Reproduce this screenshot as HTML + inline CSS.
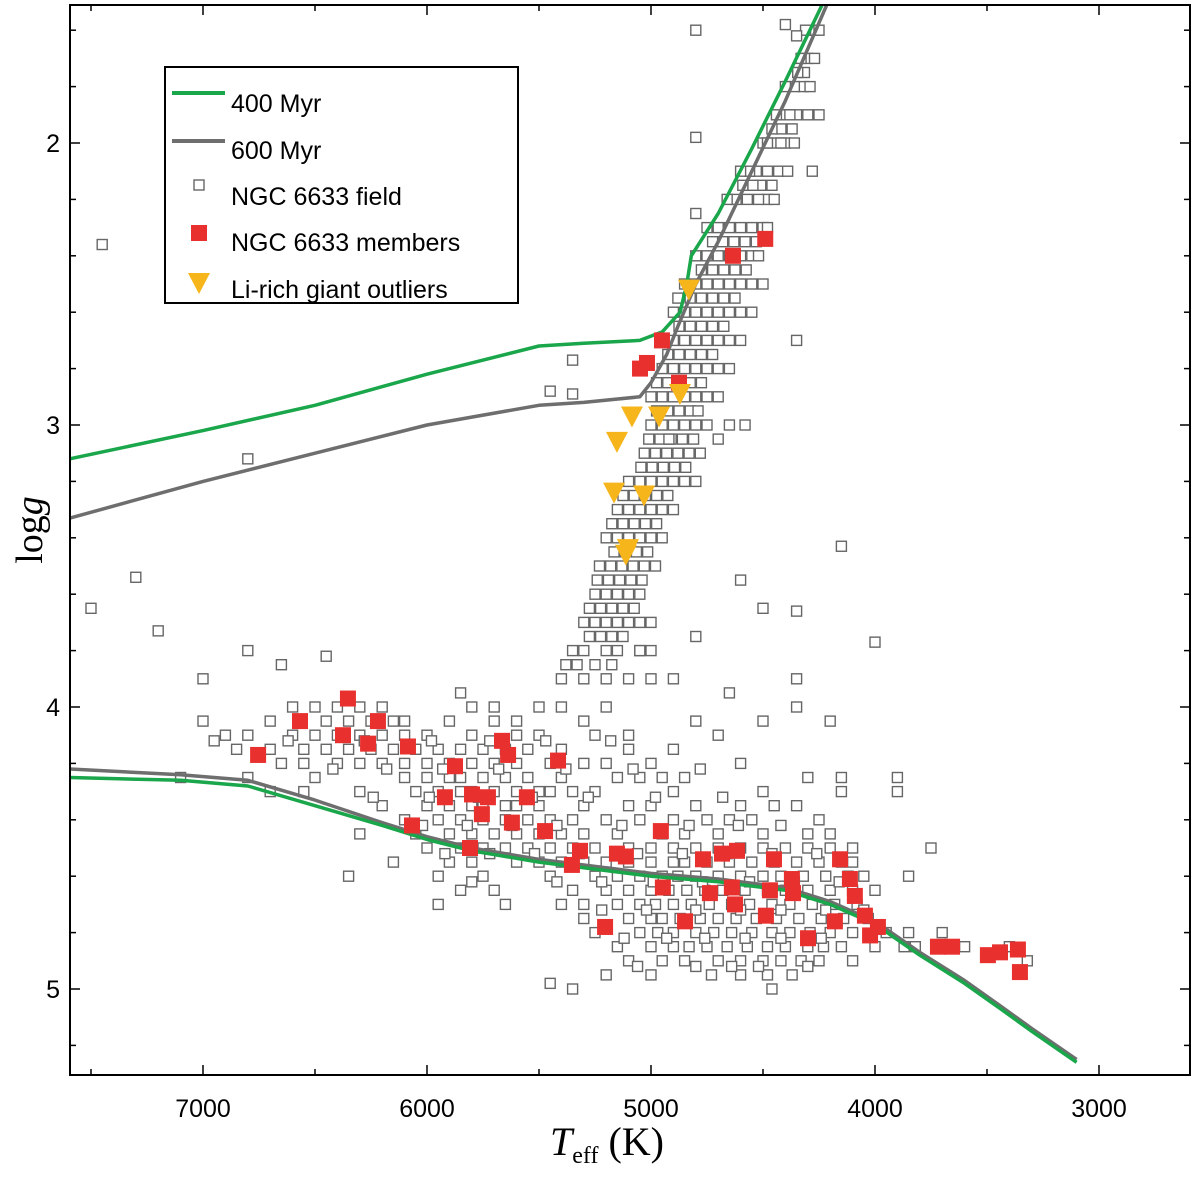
<!DOCTYPE html>
<html><head><meta charset="utf-8">
<style>
html,body{margin:0;padding:0;background:#fff;}
svg{display:block;}
.sans{font-family:"Liberation Sans",sans-serif;}
</style></head>
<body>
<svg id="chart" width="1200" height="1177" viewBox="0 0 1200 1177" xmlns="http://www.w3.org/2000/svg">
<rect x="0" y="0" width="1200" height="1177" fill="#fff"/>
<g id="plot"></g>
</svg>
<script>
// ---- data ----
const xTicks=[7000,6000,5000,4000,3000];
const yTicks=[2,3,4,5];
const iso400Giant=[[4230,1.5],[4400,1.78],[4550,2.02],[4700,2.25],[4780,2.35],[4820,2.4],[4840,2.5],[4870,2.6],[4950,2.67],[5050,2.7],[5300,2.71],[5500,2.72],[6000,2.82],[6500,2.93],[7000,3.02],[7594,3.12]];
const iso600Giant=[[4210,1.5],[4400,1.85],[4550,2.1],[4700,2.35],[4800,2.5],[4880,2.65],[4930,2.75],[5000,2.85],[5050,2.9],[5300,2.92],[5500,2.93],[6000,3.0],[6500,3.1],[7000,3.2],[7594,3.33]];
const iso400MS=[[7594,4.25],[7100,4.26],[6800,4.28],[6500,4.35],[6200,4.42],[6000,4.47],[5800,4.51],[5500,4.55],[5000,4.6],[4700,4.62],[4400,4.65],[4200,4.7],[4000,4.77],[3800,4.88],[3600,4.98],[3440,5.07],[3300,5.15],[3100,5.26]];
const iso600MS=[[7594,4.22],[7100,4.24],[6800,4.26],[6500,4.33],[6200,4.41],[6000,4.46],[5800,4.5],[5500,4.54],[5000,4.59],[4700,4.61],[4400,4.64],[4200,4.69],[4000,4.76],[3800,4.87],[3600,4.97],[3440,5.06],[3300,5.14],[3100,5.25]];
const members=[[4490,2.34],[4634,2.40],[4951,2.70],[5049,2.80],[5018,2.78],[4875,2.85],[6353,3.97],[6567,4.05],[6219,4.05],[6375,4.10],[6263,4.13],[6754,4.17],[6085,4.14],[5665,4.12],[5638,4.17],[5415,4.19],[5875,4.21],[5920,4.32],[5799,4.31],[5728,4.32],[5554,4.32],[6067,4.42],[5755,4.38],[5621,4.41],[5473,4.44],[5808,4.50],[5317,4.51],[5353,4.56],[5152,4.52],[5112,4.53],[4956,4.44],[4768,4.54],[4683,4.52],[4616,4.51],[4451,4.54],[4156,4.54],[4112,4.61],[4090,4.67],[4947,4.64],[4737,4.66],[4639,4.64],[4469,4.65],[4371,4.61],[4366,4.66],[4625,4.70],[4487,4.74],[4848,4.76],[5205,4.78],[4299,4.82],[4179,4.76],[4045,4.74],[3987,4.78],[4022,4.81],[3719,4.85],[3656,4.85],[3496,4.88],[3442,4.87],[3362,4.86],[3353,4.94]];
const liRich=[[4831,2.52],[4871,2.89],[5085,2.97],[4964,2.97],[5152,3.06],[5165,3.24],[5031,3.25],[5103,3.44],[5112,3.46]];
const fieldRows=[
[1.6,[4280,4310,4250]],[1.7,[4300,4330,4270]],[1.8,[4320,4360,4290,4400]],[1.9,[4350,4400,4440,4300,4380]],
[2.0,[4400,4450,4500,4360,4420,4480]],[2.1,[4430,4480,4530,4390,4560,4600]],[2.2,[4480,4520,4570,4620,4450,4660]],
[2.3,[4500,4550,4600,4650,4700,4480,4750]],[2.4,[4550,4600,4650,4700,4750,4800,4520]],[2.5,[4600,4650,4700,4750,4800,4850,4550,4500]],
[2.6,[4650,4700,4750,4800,4850,4900,4600,4550]],[2.7,[4700,4750,4800,4850,4900,4950,4650,4600]],[2.8,[4750,4800,4850,4900,4950,4700,4650]],
[2.9,[4800,4850,4900,4950,5000,4750,4700]],[3.0,[4850,4900,4950,5000,4800,4750,4650,4580]],[3.1,[4880,4930,4980,5030,4830,4780]],
[3.2,[4900,4950,5000,5050,5100,4850,4800]],[3.3,[4950,5000,5050,5100,5150,4900]],[3.4,[5000,5050,5100,5150,4950,5200]],
[3.5,[5030,5080,5130,5180,5230,4980]],[3.6,[5050,5100,5150,5200,5250]],[3.7,[5100,5150,5200,5250,5300,5050]],
[3.8,[5150,5200,5300,5350,5050,5000]],[3.9,[5200,5300,5400,5100,5000,4900]],
[1.75,[4315,4345]],[1.95,[4370,4420,4460]],[2.15,[4460,4510,4545,4590]],[2.35,[4530,4580,4630,4680,4725]],
[2.45,[4575,4625,4675,4725,4775]],[2.55,[4625,4675,4725,4775,4825,4880]],[2.65,[4675,4725,4775,4825,4875]],
[2.75,[4725,4775,4825,4875,4925]],[2.85,[4775,4825,4875,4925,4975]],[2.95,[4825,4875,4925,4975,4790]],
[3.05,[4860,4910,4960,5010,4810]],[3.15,[4895,4945,4995,5045,4845]],[3.25,[4925,4975,5025,5075,5125]],
[3.35,[4975,5025,5075,5125,5175]],[3.45,[5015,5065,5115,5165]],[3.55,[5040,5090,5140,5190,5240]],
[3.65,[5075,5125,5175,5225,5275]],[3.75,[5125,5175,5225,5275]],[3.85,[5175,5250,5330,5380]],
[4.0,[6500,6400,6300,6200,5800,5500,5400,5200]],
[4.05,[6700,6450,6350,6250,6150,6100,5900,5700,5600,5300,4800,4200]],
[4.1,[6900,6800,6600,6500,6400,6300,6200,6100,6000,5800,5600,5500,5250,5100,4700]],
[4.15,[6850,6700,6550,6450,6350,6250,6150,6050,5950,5850,5750,5650,5550,5400,5100,4900]],
[4.2,[6650,6550,6400,6300,6200,6100,6000,5900,5800,5700,5600,5450,5300,5200,5000,4600]],
[4.25,[6800,6500,6100,6000,5900,5850,5750,5650,5550,5400,5150,5050,4950,4850,4300]],
[4.3,[6700,6300,6050,5950,5850,5800,5700,5600,5500,5450,5350,5250,4900,4500,4150,3900]],
[4.35,[6200,6000,5900,5800,5750,5650,5600,5500,5300,5100,5000,4800,4600,4450,4350]],
[4.4,[6100,5950,5850,5750,5650,5550,5450,5350,5200,5050,4900,4750,4650,4550,4250]],
[4.45,[6050,5900,5800,5700,5600,5500,5400,5300,5150,4950,4850,4700,4500,4300,4200]],
[4.5,[6000,5850,5750,5650,5550,5450,5350,5250,5100,5000,4900,4800,4700,4600,4500,4400,4300,4200]],
[4.55,[5900,5800,5600,5500,5400,5300,5200,5100,5000,4900,4850,4750,4650,4550,4450,4350,4250,4150,4100]],
[4.6,[6350,5750,5450,5250,5150,5050,4950,4880,4800,4700,4600,4500,4420,4320,4220,4120,4050,3850]],
[4.65,[5850,5700,5350,5200,5100,5000,4920,4840,4760,4680,4580,4480,4400,4300,4200,4100,4000]],
[4.7,[5950,5650,5400,5300,5150,5050,4980,4900,4820,4740,4640,4560,4460,4380,4280,4180,4080]],
[4.75,[5300,5100,5000,4950,4870,4780,4700,4620,4530,4440,4340,4240,4140,4030]],
[4.8,[5250,5050,4970,4900,4800,4720,4640,4550,4460,4380,4290,4200,4100,3950,3850,3700]],
[4.85,[5150,5000,4900,4830,4750,4660,4570,4480,4400,4300,4230,4150,4000,3870,3820,3600,3400]],
[4.9,[5100,4950,4850,4700,4600,4500,4420,4330,4250,4100,3320]],
[4.95,[5200,5000,4730,4600,4480,4370]],[5.0,[5350,4460]],
[4.12,[6620,6280,5980,5720,5470,5180]],[4.22,[6420,6180,5930,5680,5380,5080,4780]],[4.32,[6240,5990,5770,5530,5280,4980,4680]],
[4.42,[6020,5820,5620,5420,5130,4830,4610,4420]],[4.52,[5920,5720,5520,5320,5060,4860,4660,4460,4260]],
[4.62,[5420,5220,4990,4770,4560,4360,4160]],[4.72,[5220,5020,4800,4600,4420,4220,4050]],[4.82,[5120,4930,4760,4580,4420,4240]],[4.92,[5060,4800,4640,4520,4300]]];
const fieldExtra=[[7450,2.36],[7500,3.65],[7300,3.54],[7200,3.73],[6800,3.12],[5450,2.88],[5350,2.89],[5350,2.77],[4950,1.48],[4800,1.6],[4250,1.9],[4280,2.1],[4350,2.7],[4150,3.43],[4000,3.77],[4350,3.66],[4350,3.9],[4500,3.65],[4600,3.55],[4800,3.75],[4650,3.95],[4350,4.0],[4500,4.05],[4150,4.25],[3900,4.25],[4100,4.5],[3750,4.5],[7100,4.25],[7000,3.9],[7000,4.05],[6950,4.12],[6800,3.8],[6650,3.85],[6450,3.82],[6600,4.0],[6550,4.3],[6300,4.45],[6150,4.55],[5950,4.6],[5800,4.62],[5450,4.98],[5850,3.95],[5700,4.0],[4800,2.25],[4800,1.98],[4400,1.58],[4350,1.62],[4920,3.05],[4700,3.05],[5050,3.8],[5000,3.7]];

// ---- axes ----
const X0=70,X1=1190,Y0=5,Y1=1075;
const sx=t=>203+(7000-t)*0.224;
const sy=g=>143+(g-2)*282;
const NS="http://www.w3.org/2000/svg";
const plot=document.getElementById('plot');
function mk(tag,attrs,parent){const e=document.createElementNS(NS,tag);for(const k in attrs)e.setAttribute(k,attrs[k]);(parent||plot).appendChild(e);return e;}

const clip=mk('clipPath',{id:'pc'});mk('rect',{x:X0,y:Y0,width:X1-X0,height:Y1-Y0},clip);
const gData=mk('g',{'clip-path':'url(#pc)'});



const gField=mk('g',{},gData);


const fieldPts=[];
fieldRows.forEach(r=>r[1].forEach(t=>fieldPts.push([t,r[0]])));
fieldExtra.forEach(p=>fieldPts.push(p));
fieldPts.forEach(p=>{
  const r=mk('rect',{x:sx(p[0])-5,y:sy(p[1])-5,width:10,height:10,fill:'#fff',stroke:'#666','stroke-width':1.4},gField);
  
  
});

function line(pts,color,name){
  const d=pts.map((p,i)=>(i?'L':'M')+sx(p[0]).toFixed(1)+','+sy(p[1]).toFixed(1)).join(' ');
  const e=mk('path',{d:d,fill:'none',stroke:color,'stroke-width':3.5,'stroke-linejoin':'round'},gData);
  
  
}
line(iso600Giant,'#6e6e6e','isochrone-600myr-giant');
line(iso600MS,'#6e6e6e','isochrone-600myr-ms');
line(iso400Giant,'#1aa64a','isochrone-400myr-giant');
line(iso400MS,'#1aa64a','isochrone-400myr-ms');

const gMem=mk('g',{},gData);


members.forEach(p=>{
  const r=mk('rect',{x:sx(p[0])-8,y:sy(p[1])-8,width:16,height:16,fill:'#e8302e'},gMem);
  
  
});
const gLi=mk('g',{},gData);


liRich.forEach(p=>{
  const x=sx(p[0]),y=sy(p[1]);
  const t=mk('polygon',{points:`${x-11},${y-10} ${x+11},${y-10} ${x},${y+11}`,fill:'#f7b51c'},gLi);
  
  
});

const fr=mk('rect',{x:X0,y:Y0,width:X1-X0,height:Y1-Y0,fill:'none',stroke:'#000','stroke-width':2});


for(let t=7500;t>=2600;t-=500){
  const x=sx(t);const major=t%1000===0;
  mk('line',{x1:x,y1:Y1,x2:x,y2:Y1-(major?10:6),stroke:'#000','stroke-width':1.5});
  mk('line',{x1:x,y1:Y0,x2:x,y2:Y0+(major?10:6),stroke:'#000','stroke-width':1.5});
}
xTicks.forEach(t=>{
  const e=mk('text',{x:sx(t),y:1117,'text-anchor':'middle','font-size':25,'class':'sans'});e.textContent=t;
  
  
});
for(let g=1.6;g<=5.3;g+=0.2){
  const y=sy(g);const major=Math.abs(g-Math.round(g))<0.01;
  mk('line',{x1:X0,y1:y,x2:X0+(major?10:6),y2:y,stroke:'#000','stroke-width':1.5});
  mk('line',{x1:X1,y1:y,x2:X1-(major?10:6),y2:y,stroke:'#000','stroke-width':1.5});
}
yTicks.forEach(g=>{
  const e=mk('text',{x:60,y:sy(g)+9,'text-anchor':'end','font-size':25,'class':'sans'});e.textContent=g;
  
  
});
</script>
<svg style="position:absolute;left:0;top:0" width="1200" height="1177" xmlns="http://www.w3.org/2000/svg">
<text transform="translate(42,530) rotate(-90)" text-anchor="middle" style="font-family:'Liberation Serif',serif" font-size="38">log<tspan font-style="italic">g</tspan></text>
<text x="607" y="1155" text-anchor="middle" style="font-family:'Liberation Serif',serif" font-size="40"><tspan font-style="italic">T</tspan><tspan font-size="24" dy="8">eff</tspan><tspan dy="-8"> (K)</tspan></text>
<g class="sans">
<rect x="165" y="67" width="353" height="236" fill="#fff" stroke="#000" stroke-width="2"/>
<line x1="172" y1="93" x2="225" y2="93" stroke="#1aa64a" stroke-width="4"/>
<text x="231" y="112" font-size="25">400 Myr</text>
<line x1="172" y1="141" x2="225" y2="141" stroke="#6e6e6e" stroke-width="4"/>
<text x="231" y="159" font-size="25">600 Myr</text>
<rect x="194" y="180" width="10" height="10" fill="#fff" stroke="#666" stroke-width="1.4"/>
<text x="231" y="205" font-size="25">NGC 6633 field</text>
<rect x="191" y="225" width="16" height="16" fill="#e8302e"/>
<text x="231" y="251" font-size="25">NGC 6633 members</text>
<polygon points="188,273 210,273 199,294" fill="#f7b51c"/>
<text x="231" y="298" font-size="25">Li-rich giant outliers</text>
</g>
</svg>
</body></html>
